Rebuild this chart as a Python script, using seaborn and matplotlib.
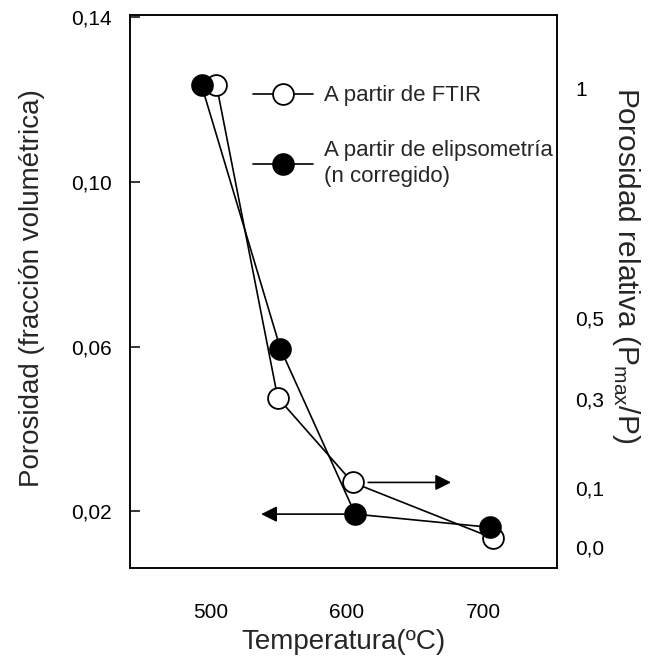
import matplotlib
matplotlib.use("Agg")
import matplotlib.pyplot as plt
import seaborn as sns
import pandas as pd

# ---- data ----
temp_ftir = [504, 549, 604, 707]
por_ftir = [0.1235, 0.0476, 0.0270, 0.0135]
temp_elip = [493, 551, 606, 705]
por_elip = [0.1235, 0.0595, 0.0193, 0.0161]

series_labels = ["A partir de FTIR", "A partir de elipsometría\n(n corregido)"]

x_ticks = [500, 600, 700]
x_ticklabels = ["500", "600", "700"]
y_ticks = [0.02, 0.06, 0.10, 0.14]
y_ticklabels = ["0,02", "0,06", "0,10", "0,14"]
rel_ticklabels = ["0,0", "0,1", "0,3", "0,5", "1"]
rel_tick_pos = [0.0113, 0.0256, 0.0472, 0.0670, 0.1228]

xlabel = "Temperatura(ºC)"
ylabel = "Porosidad (fracción volumétrica)"
ylabel_right = r"Porosidad relativa (P$_{\mathrm{max}}$/P)"

# ---- style ----
sns.set_style("white")
plt.rcParams["font.family"] = ["Liberation Sans", "DejaVu Sans"]
plt.rcParams["mathtext.fontset"] = "custom"
plt.rcParams["mathtext.rm"] = "Liberation Sans"
plt.rcParams["mathtext.it"] = "Liberation Sans:italic"
plt.rcParams["axes.edgecolor"] = "black"
plt.rcParams["axes.linewidth"] = 1.1

fig = plt.figure(figsize=(6.5, 6.59), dpi=100)
ax = fig.add_axes([0.2, 0.138, 0.657, 0.839])

df_ftir = pd.DataFrame({"T": temp_ftir, "P": por_ftir})
df_elip = pd.DataFrame({"T": temp_elip, "P": por_elip})

sns.lineplot(data=df_ftir, x="T", y="P", sort=False, ax=ax, color="black",
             linewidth=1.2, marker="o", markersize=15,
             markerfacecolor="white", markeredgecolor="black",
             markeredgewidth=1.3, zorder=3, label=series_labels[0])
sns.lineplot(data=df_elip, x="T", y="P", sort=False, ax=ax, color="black",
             linewidth=1.2, marker="o", markersize=15,
             markerfacecolor="black", markeredgecolor="black",
             markeredgewidth=1.3, zorder=4, label=series_labels[1])

ax.set_xlim(440.4, 754.4)
ax.set_ylim(0.0062, 0.1405)

# arrows indicating which axis each series refers to
arrow_kw = dict(arrowstyle="-|>,head_length=0.5,head_width=0.25", color="black",
                lw=1.2, mutation_scale=19, shrinkA=0, shrinkB=0)
ax.annotate("", xy=(676.5, por_ftir[2]), xytext=(615.5, por_ftir[2]),
            arrowprops=arrow_kw, zorder=2)
ax.annotate("", xy=(536.8, por_elip[2]), xytext=(temp_elip[2], por_elip[2]),
            arrowprops=arrow_kw, zorder=2)

ax.set_xticks(x_ticks, x_ticklabels)
ax.set_yticks(y_ticks, y_ticklabels)
ax.tick_params(axis="x", direction="in", length=11.5, width=1.1, pad=25,
               labelsize=15, colors="black")
ax.tick_params(axis="y", direction="in", length=7.2, width=1.1, pad=13,
               labelsize=15, colors="black")

ax.set_xlabel(xlabel, fontsize=20, labelpad=5)
ax.set_ylabel(ylabel, fontsize=20, va="bottom")
ax.yaxis.set_label_coords(-0.2, 0.507)

for s in ax.spines.values():
    s.set_visible(True)
    s.set_color("black")
    s.set_linewidth(1.1)

handles = ax.get_lines()[:2]
leg = ax.legend(handles, series_labels, loc="upper left",
                bbox_to_anchor=(0.288, 0.873), frameon=False,
                borderaxespad=0, borderpad=0, handlelength=2.7,
                handletextpad=0.5, labelspacing=1.5, fontsize=16)
for t in leg.get_texts():
    t.set_linespacing(1.35)

ax2 = ax.twinx()
ax2.set_ylim(ax.get_ylim())
ax2.set_yticks(rel_tick_pos, rel_ticklabels)
ax2.tick_params(axis="y", length=0, pad=13, labelsize=15, colors="black")
ax2.set_ylabel(ylabel_right, fontsize=21.5, rotation=270, va="bottom")
ax2.yaxis.set_label_coords(1.125, 0.548)
for s in ax2.spines.values():
    s.set_color("black")
    s.set_linewidth(1.1)

fig.savefig("out.png", dpi=100)
